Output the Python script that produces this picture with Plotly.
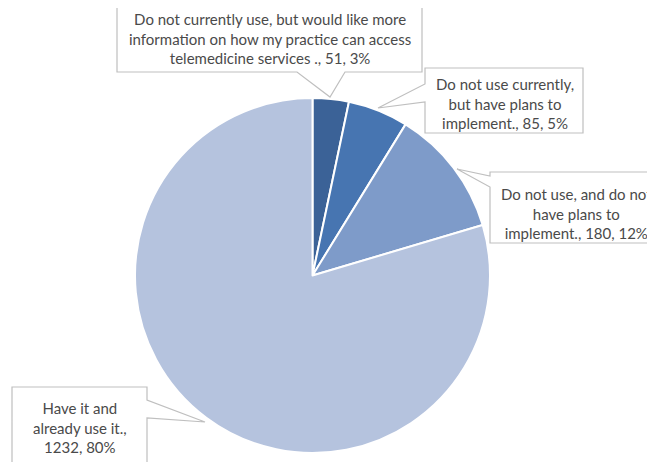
import plotly.graph_objects as go

OFF = 8  # page body margin
W, H = 655 - OFF, 462 - OFF

categories = [
    "Do not currently use, but would like more<br>information on how my practice can access<br>telemedicine services .",
    "Do not use currently,<br>but have plans to<br>implement.",
    "Do not use, and do not<br>have plans to<br>implement.",
    "Have it and<br>already use it.",
]
values = [51, 85, 180, 1232]
percents = ["3%", "5%", "12%", "80%"]
colors = ["#3B6297", "#4775B1", "#7E9BC9", "#B5C3DE"]

def px(x):
    return (x - OFF) / W

def py(y):
    return 1 - (y - OFF) / H

fig = go.Figure(go.Pie(
    labels=[c.replace("<br>", " ") for c in categories],
    values=values,
    sort=False,
    direction="clockwise",
    rotation=0,
    marker=dict(colors=colors, line=dict(color="white", width=2)),
    textinfo="none",
    hoverinfo="label+value+percent",
    showlegend=False,
    domain=dict(x=[px(135), px(490)], y=[py(453), py(98)]),
))

def path(points):
    return "M " + " L ".join(f"{px(x):.5f},{py(y):.5f}" for x, y in points) + " Z"

callouts = [
    [(117, 2), (422, 2), (422, 72), (345, 72), (330, 97), (297, 72), (117, 72)],
    [(425, 68), (583, 68), (583, 133), (425, 133), (425, 102), (378, 108), (425, 84)],
    [(490, 172), (670, 172), (670, 243), (490, 243), (490, 187), (457, 169), (490, 176)],
    [(12, 387), (147, 387), (147, 400), (205, 422), (147, 418), (147, 480), (12, 480)],
]
shapes = []
for pts in callouts:
    shapes.append(dict(type="path", xref="paper", yref="paper", path=path(pts),
                       line=dict(color="#BFBFBF", width=1.2), fillcolor="white", layer="above"))

label_pos = [(270, 39), (505, 104), (576, 213), (80, 427)]
annotations = []
for cat, v, p, (x, y) in zip(categories, values, percents, label_pos):
    if cat.startswith("Have"):
        txt = f"{cat},<br>{v}, {p}"
    else:
        txt = f"{cat}, {v}, {p}"
    annotations.append(dict(x=px(x), y=py(y), xref="paper", yref="paper", text=txt,
                            showarrow=False, xanchor="center", yanchor="middle",
                            font=dict(family="Lato", size=15, color="#4A4A4A")))

fig.update_layout(
    width=W, height=H,
    margin=dict(l=0, r=0, t=0, b=0),
    paper_bgcolor="white",
    plot_bgcolor="white",
    shapes=shapes,
    annotations=annotations,
)

fig.write_html("out.html")
